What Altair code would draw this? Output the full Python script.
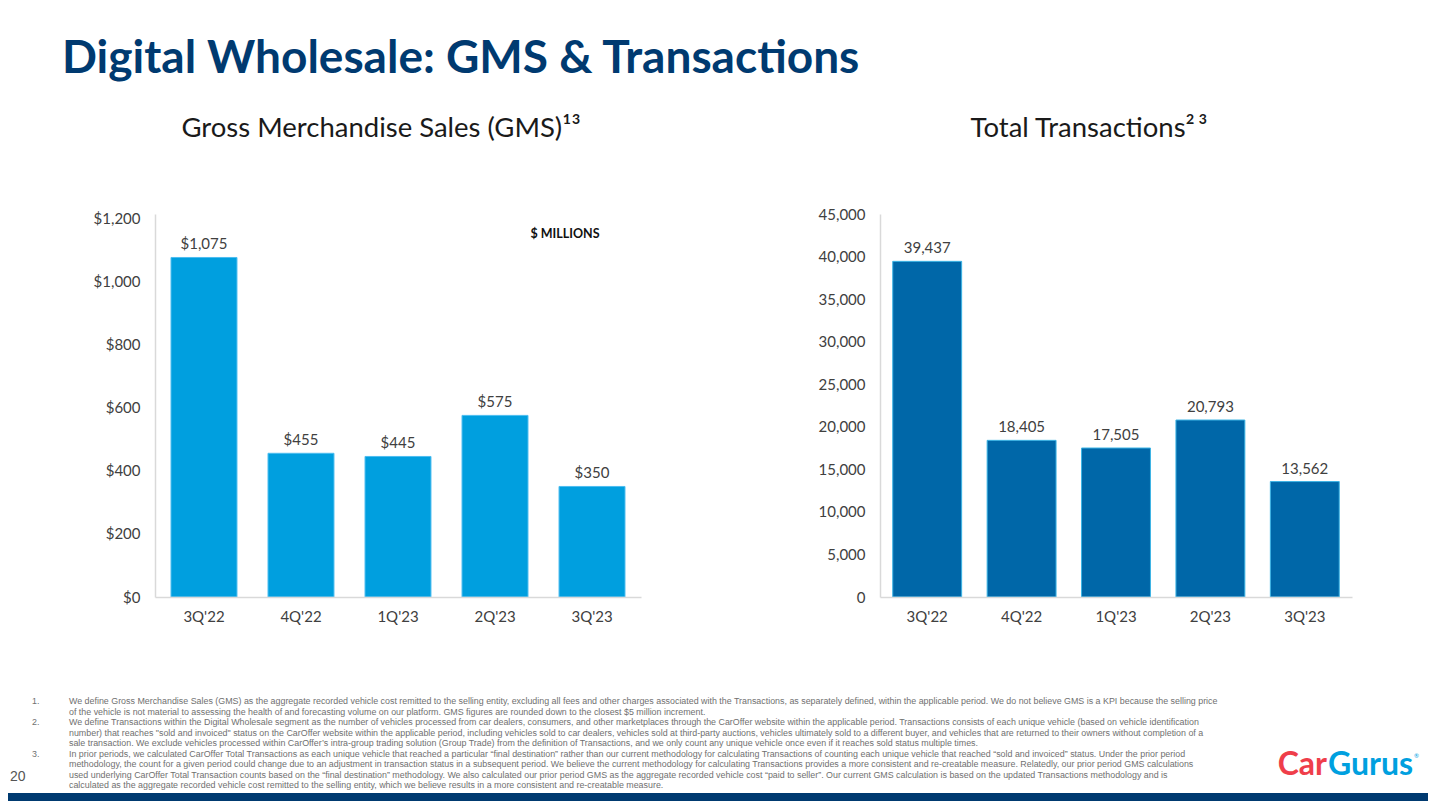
import altair as alt
import pandas as pd

# ---------------- data ----------------
quarters = ["3Q'22", "4Q'22", "1Q'23", "2Q'23", "3Q'23"]
gms_values = [1075, 455, 445, 575, 350]
transaction_values = [39437, 18405, 17505, 20793, 13562]
gms_ticks = [0, 200, 400, 600, 800, 1000, 1200]
transaction_ticks = [0, 5000, 10000, 15000, 20000, 25000, 30000, 35000, 40000, 45000]

main_title = "Digital Wholesale: GMS & Transactions"
left_title = "Gross Merchandise Sales (GMS)\u00b9\u00b3"
right_title = "Total Transactions\u00b2\u2009\u00b3"
unit_note = "$ MILLIONS"
page_number = "20"
footnote_markers = ["1.", "2.", "3."]
footnote_marker_line = [0, 2, 5]   # line of the footnote block each marker sits on
footnote_lines = [
    "We define Gross Merchandise Sales (GMS) as the aggregate recorded vehicle cost remitted to the selling entity, excluding all fees and other charges associated with the Transactions, as separately defined, within the applicable period. We do not believe GMS is a KPI because the selling price",
    "of the vehicle is not material to assessing the health of and forecasting volume on our platform. GMS figures are rounded down to the closest $5 million increment.",
    "We define Transactions within the Digital Wholesale segment as the number of vehicles processed from car dealers, consumers, and other marketplaces through the CarOffer website within the applicable period. Transactions consists of each unique vehicle (based on vehicle identification",
    "number) that reaches \"sold and invoiced\" status on the CarOffer website within the applicable period, including vehicles sold to car dealers, vehicles sold at third-party auctions, vehicles ultimately sold to a different buyer, and vehicles that are returned to their owners without completion of a",
    "sale transaction. We exclude vehicles processed within CarOffer\u2019s intra-group trading solution (Group Trade) from the definition of Transactions, and we only count any unique vehicle once even if it reaches sold status multiple times.",
    "In prior periods, we calculated CarOffer Total Transactions as each unique vehicle that reached a particular \u201cfinal destination\u201d rather than our current methodology for calculating Transactions of counting each unique vehicle that reached \u201csold and invoiced\u201d status. Under the prior period",
    "methodology, the count for a given period could change due to an adjustment in transaction status in a subsequent period. We believe the current methodology for calculating Transactions provides a more consistent and re-creatable measure. Relatedly, our prior period GMS calculations",
    "used underlying CarOffer Total Transaction counts based on the \u201cfinal destination\u201d methodology. We also calculated our prior period GMS as the aggregate recorded vehicle cost \u201cpaid to seller\u201d. Our current GMS calculation is based on the updated Transactions methodology and is",
    "calculated as the aggregate recorded vehicle cost remitted to the selling entity, which we believe results in a more consistent and re-creatable measure.",
]

NAVY = "#003A70"
LIGHT_BLUE = "#009FDF"
DARK_BLUE = "#0067A8"
LABEL = "#404040"
FOOT = "#707070"
AXIS_FONT = "Lato"
FOOT_FONT = "Liberation Sans"
FOOT_LINE_H = 10.5
FOOT_TOP = 487

gms_df = pd.DataFrame({"quarter": quarters, "value": gms_values})
tx_df = pd.DataFrame({"quarter": quarters, "value": transaction_values})

ONE = alt.Data(values=[{"t": 0}])


def text_mark(text, x, y, size, color, weight="normal", align="left",
              baseline="alphabetic", font=AXIS_FONT, line_height=None):
    kw = dict(x=x, y=y, fontSize=size, color=color, fontWeight=weight,
              align=align, baseline=baseline, font=font, text=text)
    if line_height is not None:
        kw["lineHeight"] = line_height
    return alt.Chart(ONE).mark_text(**kw)


def rect_mark(x, x2, y, y2, color, opacity=1):
    return alt.Chart(ONE).mark_rect(color=color, opacity=opacity).encode(
        x=alt.value(x), x2=alt.value(x2), y=alt.value(y), y2=alt.value(y2)
    )


def axis_x():
    return alt.Axis(title=None, labelAngle=0, ticks=False, grid=False,
                    domainColor="#d9d9d9", domainWidth=1.5, labelFont=AXIS_FONT,
                    labelFontSize=15, labelColor=LABEL, labelPadding=12, zindex=1)


def axis_y(values, fmt):
    return alt.Axis(title=None, values=values, format=fmt, ticks=False, grid=False,
                    domainColor="#d9d9d9", domainWidth=1.5, labelFont=AXIS_FONT,
                    labelFontSize=15, labelColor=LABEL, labelPadding=15, zindex=1)


PLOT_H = 383

# ---------------- left panel ----------------
left_base = alt.Chart(gms_df).encode(
    x=alt.X("quarter:N", sort=quarters,
            scale=alt.Scale(paddingInner=0.32, paddingOuter=0.165), axis=axis_x()),
    y=alt.Y("value:Q", scale=alt.Scale(domain=[0, 1200 * 383 / 379], nice=False),
            axis=axis_y(gms_ticks, "$,.0f")),
)
left_bars = left_base.mark_bar(color=LIGHT_BLUE, stroke="#4DBDF0", strokeWidth=1)
left_labels = left_base.mark_text(dy=-8, baseline="alphabetic", fontSize=15,
                                  color=LABEL, font=AXIS_FONT).encode(
    text=alt.Text("value:Q", format="$,.0f"))

page_bg = rect_mark(-147, 1273, -206, 587, "white", opacity=0)
bottom_band = rect_mark(-147, 1273, 579, 587, NAVY)

marker_layers = [
    text_mark(m, -123, FOOT_TOP + li * FOOT_LINE_H, 8.9, FOOT, baseline="middle",
              font=FOOT_FONT)
    for m, li in zip(footnote_markers, footnote_marker_line)
]

left = alt.layer(
    page_bg,
    bottom_band,
    left_bars,
    left_labels,
    text_mark(main_title, -93, -141, 46, NAVY, weight="bold"),
    text_mark(left_title, 226, -77, 27.5, "#1a1a1a", align="center"),
    text_mark(unit_note, 410, 20, 12.5, "#111111", weight="bold", align="center",
              baseline="middle"),
    text_mark(page_number, -145, 563, 14, "#555555", baseline="middle",
              font=FOOT_FONT),
    *marker_layers,
    text_mark(footnote_lines, -86, FOOT_TOP, 8.9, FOOT, baseline="middle",
              font=FOOT_FONT, line_height=FOOT_LINE_H),
).properties(width=486, height=PLOT_H)

# ---------------- right panel ----------------
right_base = alt.Chart(tx_df).encode(
    x=alt.X("quarter:N", sort=quarters,
            scale=alt.Scale(paddingInner=0.27, paddingOuter=0.135), axis=axis_x()),
    y=alt.Y("value:Q", scale=alt.Scale(domain=[0, 45000], nice=False),
            axis=axis_y(transaction_ticks, ",.0f")),
)
right_bars = right_base.mark_bar(color=DARK_BLUE, stroke="#3CB4E5", strokeWidth=1)
right_labels = right_base.mark_text(dy=-8, baseline="alphabetic", fontSize=15,
                                    color=LABEL, font=AXIS_FONT).encode(
    text=alt.Text("value:Q", format=",.0f"))

right = alt.layer(
    right_bars,
    right_labels,
    text_mark(right_title, 209, -77, 27.5, "#1a1a1a", align="center"),
    text_mark("Car", 447, 561, 32, "#EF3E4A", weight="bold", align="right"),
    text_mark("Gurus", 448, 561, 32, "#00A0DF", weight="bold", align="left"),
    text_mark("\u00ae", 534, 544, 6, "#00A0DF", align="left"),
).properties(width=472, height=PLOT_H)

chart = alt.hconcat(left, right, spacing=239, bounds="flush").properties(
    padding=0
).configure(background="white").configure_view(stroke=None)

chart.save("out.html", embed_options={"renderer": "svg", "actions": False})
